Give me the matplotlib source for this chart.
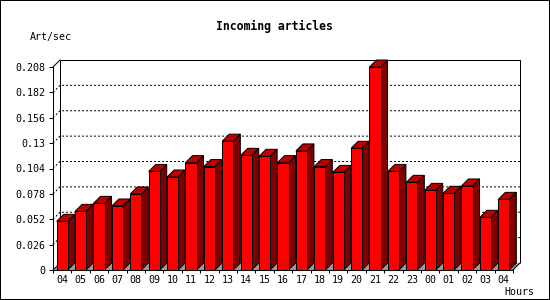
import matplotlib
matplotlib.use("Agg")
import matplotlib.pyplot as plt
from matplotlib.patches import Polygon, Rectangle
from matplotlib.ticker import FixedLocator, NullFormatter, FixedFormatter

# Incoming articles per hour (Art/sec)
hours = ["04", "05", "06", "07", "08", "09", "10", "11", "12", "13", "14", "15", "16",
         "17", "18", "19", "20", "21", "22", "23", "00", "01", "02", "03", "04"]
rates = [0.0499, 0.0601, 0.0683, 0.0656, 0.0779, 0.101, 0.0953, 0.110, 0.106, 0.132,
         0.1175, 0.1165, 0.110, 0.122, 0.106, 0.100, 0.1247, 0.208, 0.101, 0.0898,
         0.0816, 0.0786, 0.0861, 0.054, 0.0724]
yticks = [0, 0.026, 0.052, 0.078, 0.104, 0.13, 0.156, 0.182, 0.208]
ytick_labels = ["0", "0.026", "0.052", "0.078", "0.104", "0.13", "0.156", "0.182", "0.208"]

plt.rcParams["font.family"] = "DejaVu Sans Mono"
plt.rcParams["lines.scale_dashes"] = False

W, H = 550, 300
PX = 0.72  # one pixel in points at dpi 100

fig = plt.figure(figsize=(5.5, 3), dpi=100)
# front plane of the chart, in pixels
left, right, bottom, top = 53, 513, 270, 67
ax = fig.add_axes([left / W, (H - bottom) / H, (right - left) / W, (bottom - top) / H])
n = len(rates)
ymax = yticks[-1]
ax.set_xlim(0, n)
ax.set_ylim(0, ymax)
ax.patch.set_visible(False)

# 3d depth, 7 px right and 7 px up
dx = 7 / ((right - left) / n)
dy = 7 / ((bottom - top) / ymax)

# back wall
ax.add_patch(Rectangle((dx, dy), n, ymax, facecolor="white", edgecolor="none",
                       zorder=0.5, clip_on=False))
ax.plot([dx, dx, n + dx, n + dx], [dy, ymax + dy, ymax + dy, dy], color="black",
        lw=PX, zorder=1, clip_on=False, solid_capstyle="butt")
ax.plot([0, dx], [ymax, ymax + dy], color="black", lw=PX, zorder=1, clip_on=False)

# dotted grid on the back wall
for v in yticks[1:-1]:
    ax.plot([0, dx, n + dx], [v, v + dy, v + dy], color="black", lw=PX,
            ls=(0, (1.44, 1.44)), zorder=1, clip_on=False)

# floor
ax.add_patch(Polygon([(0, 0), (n, 0), (n + dx, dy), (dx, dy)], closed=True,
                     facecolor="#999999", edgecolor="none", zorder=1.5, clip_on=False))
ax.plot([0, dx], [0, dy], color="black", lw=PX, zorder=1.6, clip_on=False)
ax.plot([n, n + dx], [0, dy], color="black", lw=PX, zorder=1.6, clip_on=False)

# bars
bw = 0.6
xs = [i + 0.5 for i in range(n)]
ax.bar(xs, rates, width=bw, color="#ff0000", edgecolor="black", linewidth=PX,
       zorder=3, clip_on=False)
for x, v in zip(xs, rates):
    xl, xr = x - bw / 2, x + bw / 2
    side = [(xr, 0), (xr + dx, dy), (xr + dx, v + dy), (xr, v)]
    roof = [(xl, v), (xr, v), (xr + dx, v + dy), (xl + dx, v + dy)]
    ax.add_patch(Polygon(side, closed=True, facecolor="#800000", edgecolor="black",
                         lw=PX, zorder=2.5, clip_on=False))
    ax.add_patch(Polygon(roof, closed=True, facecolor="#c00000", edgecolor="black",
                         lw=PX, zorder=2.5, clip_on=False))

# axes
for s in ["top", "right"]:
    ax.spines[s].set_visible(False)
for s in ["left", "bottom"]:
    ax.spines[s].set_linewidth(PX)
    ax.spines[s].set_zorder(4)

ax.set_yticks(yticks)
ax.set_yticklabels(ytick_labels)
ax.tick_params(axis="y", direction="out", length=4 * PX, width=PX, pad=4 * PX,
               labelsize=7.2)

ax.xaxis.set_major_locator(FixedLocator(list(range(n + 1))))
ax.xaxis.set_major_formatter(NullFormatter())
ax.xaxis.set_minor_locator(FixedLocator(xs))
ax.xaxis.set_minor_formatter(FixedFormatter(hours))
ax.tick_params(axis="x", which="major", direction="out", length=3 * PX, width=PX)
ax.tick_params(axis="x", which="minor", length=0, pad=5 * PX, labelsize=7.2)

fig.text(274 / W, 1 - 26.7 / H, "Incoming articles", ha="center", va="center",
         fontsize=8.3, fontweight="bold")
fig.text(30 / W, 1 - 37 / H, "Art/sec", ha="left", va="center", fontsize=7.2)
fig.text(534 / W, 1 - 292 / H, "Hours", ha="right", va="center", fontsize=7.2)

# frame around the whole image
fig.patches.append(Rectangle((0, 0), 1, 1, transform=fig.transFigure, fill=False,
                             edgecolor="black", lw=1.44, zorder=10))

fig.savefig("out.png", dpi=100)
